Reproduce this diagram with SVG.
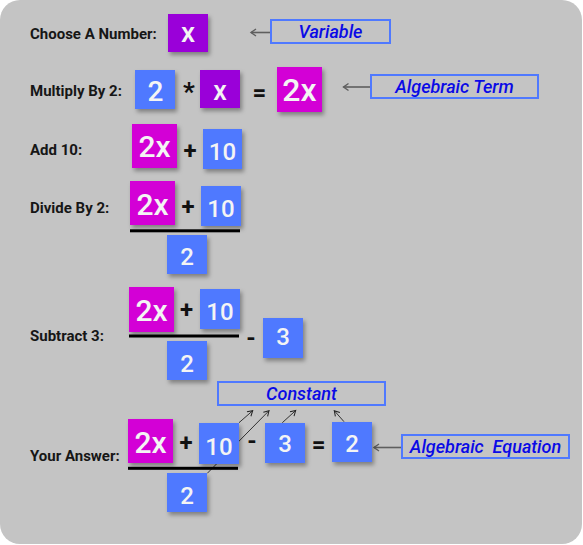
<svg xmlns="http://www.w3.org/2000/svg" width="583" height="545" viewBox="0 0 583 545">
<defs>
<style>
.lbl{font-family:Roboto,"Liberation Sans",sans-serif;font-weight:700;font-size:15px;fill:#161616}
.num{font-family:Roboto,"Liberation Sans",sans-serif;font-weight:500;fill:#f4f4f4;text-anchor:middle}
.op{font-family:Roboto,"Liberation Sans",sans-serif;font-weight:700;fill:#111;text-anchor:middle}
.blue{fill:#4f79ff}
.pur{fill:#9a00d9}
.mag{fill:#d300d6}
.tag{fill:none;stroke:#4f79ff;stroke-width:2}
.tagt{font-family:Roboto,"Liberation Sans",sans-serif;font-style:italic;font-weight:500;font-size:18px;fill:#0a0ae6;text-anchor:middle}
.ptr{stroke:#5e5e5e;stroke-width:1.6;fill:none}
.thin{stroke:#222;stroke-width:0.9;fill:none}
.bar{fill:#000}
</style>
<filter id="sh" x="-20%" y="-20%" width="150%" height="150%">
<feDropShadow dx="2" dy="3" stdDeviation="2" flood-color="#000" flood-opacity="0.35"/>
</filter>
<marker id="ag" viewBox="-7 -5 9 10" refX="0" refY="0" markerWidth="9" markerHeight="10" markerUnits="userSpaceOnUse" orient="auto">
<path d="M-5,-3.5 L0,0 L-5,3.5" fill="none" stroke="#5e5e5e" stroke-width="1.4"/>
</marker>
<marker id="ak" viewBox="-8 -5 10 10" refX="0" refY="0" markerWidth="10" markerHeight="10" markerUnits="userSpaceOnUse" orient="auto">
<path d="M-5,-3 L0,0 L-5,3" fill="none" stroke="#222" stroke-width="1"/>
</marker>
</defs>
<rect x="0" y="0" width="583" height="545" fill="#ffffff"/>
<rect x="0" y="0" width="582" height="544" rx="20" ry="20" fill="#c4c4c4"/>

<g id="connectors">
<line class="ptr" x1="271" y1="32.5" x2="251" y2="32.5" marker-end="url(#ag)"/>
<line class="ptr" x1="371" y1="87" x2="343.5" y2="87" marker-end="url(#ag)"/>
<line class="ptr" x1="402" y1="447.5" x2="374" y2="447.5" marker-end="url(#ag)"/>
<line class="thin" x1="239" y1="422.7" x2="252.7" y2="410.7" marker-end="url(#ak)"/>
<line class="thin" x1="207.3" y1="473.3" x2="269" y2="410.7" marker-end="url(#ak)"/>
<line class="thin" x1="282.3" y1="422.7" x2="295.7" y2="410.5" marker-end="url(#ak)"/>
<line class="thin" x1="344" y1="421.7" x2="334.3" y2="410.7" marker-end="url(#ak)"/>
</g>

<g id="row1">
<text class="lbl" x="30" y="38.5">Choose A Number:</text>
<g id="r1-x"><rect class="pur" x="168" y="14" width="40" height="38" filter="url(#sh)"/><text class="num" x="188" y="41.5" font-size="28">x</text></g>
<g id="tag-variable"><rect class="tag" x="271" y="20" width="119" height="23"/><text class="tagt" x="330.5" y="37.5">Variable</text></g>
</g>

<g id="row2">
<text class="lbl" x="30" y="96">Multiply By 2:</text>
<g id="r2-2"><rect class="blue" x="135" y="70" width="40" height="39" filter="url(#sh)"/><text class="num" x="155.5" y="101" font-size="28">2</text></g>
<text class="op" x="189" y="101" font-size="26">*</text>
<g id="r2-x"><rect class="pur" x="200" y="70" width="40" height="38" filter="url(#sh)"/><text class="num" x="220" y="99.5" font-size="27">x</text></g>
<text class="op" x="259.5" y="100.5" font-size="24">=</text>
<g id="r2-2x"><rect class="mag" x="277" y="67" width="45" height="45" filter="url(#sh)"/><text class="num" x="299.5" y="101" font-size="32">2x</text></g>
<g id="tag-term"><rect class="tag" x="371" y="75" width="167" height="23"/><text class="tagt" x="454.5" y="93">Algebraic Term</text></g>
</g>

<g id="row3">
<text class="lbl" x="30" y="155">Add 10:</text>
<g id="r3-2x"><rect class="mag" x="132" y="124" width="45" height="44" filter="url(#sh)"/><text class="num" x="154.5" y="157" font-size="30">2x</text></g>
<text class="op" x="190" y="158.5" font-size="24">+</text>
<g id="r3-10"><rect class="blue" x="203" y="129" width="39" height="40" filter="url(#sh)"/><text class="num" x="222.5" y="160" font-size="24">10</text></g>
</g>

<g id="row4">
<text class="lbl" x="30" y="213">Divide By 2:</text>
<g id="r4-2x"><rect class="mag" x="130" y="181" width="45" height="44" filter="url(#sh)"/><text class="num" x="152.5" y="214.5" font-size="30">2x</text></g>
<text class="op" x="188" y="215" font-size="24">+</text>
<g id="r4-10"><rect class="blue" x="201" y="186" width="40" height="40" filter="url(#sh)"/><text class="num" x="221" y="217" font-size="24">10</text></g>
<rect class="bar" x="130" y="229.3" width="110" height="3"/>
<g id="r4-2"><rect class="blue" x="167" y="235" width="40" height="39" filter="url(#sh)"/><text class="num" x="187" y="264.5" font-size="24">2</text></g>
</g>

<g id="row5">
<text class="lbl" x="30" y="341">Subtract 3:</text>
<g id="r5-2x"><rect class="mag" x="129" y="287" width="45" height="45" filter="url(#sh)"/><text class="num" x="151.5" y="321" font-size="30">2x</text></g>
<text class="op" x="186.5" y="318" font-size="24">+</text>
<g id="r5-10"><rect class="blue" x="200" y="289" width="40" height="40" filter="url(#sh)"/><text class="num" x="220" y="320" font-size="24">10</text></g>
<rect class="bar" x="129" y="334.5" width="110" height="3"/>
<g id="r5-2"><rect class="blue" x="167" y="341" width="40" height="39" filter="url(#sh)"/><text class="num" x="187" y="371.5" font-size="24">2</text></g>
<text class="op" x="251" y="346" font-size="24">-</text>
<g id="r5-3"><rect class="blue" x="263" y="318" width="40" height="40" filter="url(#sh)"/><text class="num" x="283" y="345" font-size="24">3</text></g>
</g>

<g id="row6">
<text class="lbl" x="30" y="460.5">Your Answer:</text>
<g id="r6-2x"><rect class="mag" x="128" y="419" width="45" height="44" filter="url(#sh)"/><text class="num" x="150.5" y="453" font-size="30">2x</text></g>
<text class="op" x="186" y="451" font-size="24">+</text>
<g id="r6-10"><rect class="blue" x="199" y="423" width="40" height="41" filter="url(#sh)"/><text class="num" x="219" y="455" font-size="24">10</text></g>
<rect class="bar" x="128" y="466.8" width="110" height="3"/>
<g id="r6-2"><rect class="blue" x="167" y="473" width="40" height="39" filter="url(#sh)"/><text class="num" x="187" y="503.5" font-size="24">2</text></g>
<text class="op" x="252" y="448.5" font-size="24">-</text>
<g id="r6-3"><rect class="blue" x="265" y="423" width="40" height="40" filter="url(#sh)"/><text class="num" x="285" y="452" font-size="24">3</text></g>
<text class="op" x="318.7" y="453" font-size="24">=</text>
<g id="r6-ans"><rect class="blue" x="332" y="422" width="40" height="40" filter="url(#sh)"/><text class="num" x="352" y="451.7" font-size="24">2</text></g>
<g id="tag-constant"><rect class="tag" x="218" y="382" width="167" height="23"/><text class="tagt" x="301.5" y="399.5">Constant</text></g>
<g id="tag-equation"><rect class="tag" x="402" y="435" width="167" height="23"/><text class="tagt" x="485.5" y="452.5" xml:space="preserve">Algebraic  Equation</text></g>
</g>
</svg>
